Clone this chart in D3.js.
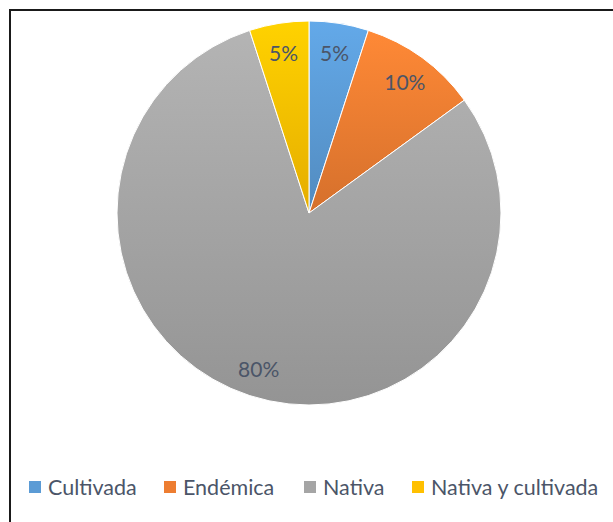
<!DOCTYPE html>
<html>
<head>
<meta charset="utf-8">
<script src="https://cdn.jsdelivr.net/npm/d3@7/dist/d3.min.js"></script>
<style>
html,body{margin:0;padding:0;background:#fff;}
svg{display:block;}
</style>
</head>
<body>
<svg id="chart" width="613" height="522"></svg>
<script>
const categories = ["Cultivada", "Endémica", "Nativa", "Nativa y cultivada"];
const values = [5, 10, 80, 5];
const labels = ["5%", "10%", "80%", "5%"];
const colors = ["#5b9bd5", "#ed7d31", "#a5a5a5", "#ffc000"];

const W = 613, H = 522;
const svg = d3.select("#chart");
const fontFam = "Lato, 'Open Sans', 'Liberation Sans', sans-serif";
const textColor = "#4b5568";

// frame
svg.append("rect").attr("x", 10).attr("y", 10).attr("width", W + 20).attr("height", H + 20)
  .attr("fill", "#fff").attr("stroke", "#1a1a1a").attr("stroke-width", 2);

const defs = svg.append("defs");
colors.forEach((c, i) => {
  const g = defs.append("linearGradient").attr("id", "grad" + i)
    .attr("x1", 0).attr("y1", 0).attr("x2", 0).attr("y2", 1);
  g.append("stop").attr("offset", "0%").attr("stop-color", d3.color(c).brighter(0.25));
  g.append("stop").attr("offset", "100%").attr("stop-color", d3.color(c).darker(0.3));
});

const cx = 309, cy = 213, r = 192;
const pie = d3.pie().sort(null).value(d => d)(values);
const arc = d3.arc().innerRadius(0).outerRadius(r);
const labelArc = d3.arc().innerRadius(163).outerRadius(163);

const g = svg.append("g").attr("transform", `translate(${cx},${cy})`);
g.selectAll("path.slice").data(pie).enter().append("path")
  .attr("class", "slice")
  .attr("d", arc)
  .attr("fill", (d, i) => `url(#grad${i})`)
  .attr("stroke", "#fff").attr("stroke-width", 1);

g.selectAll("text.lbl").data(pie).enter().append("text")
  .attr("class", "lbl")
  .attr("transform", d => `translate(${labelArc.centroid(d)})`)
  .attr("text-anchor", "middle").attr("dominant-baseline", "central")
  .attr("font-family", fontFam).attr("font-size", 21)
  .attr("fill", textColor)
  .text((d, i) => labels[i]);

// legend
const legendX = [29, 164, 304, 412];
const leg = svg.append("g");
categories.forEach((c, i) => {
  leg.append("rect").attr("x", legendX[i]).attr("y", 481).attr("width", 12).attr("height", 12)
    .attr("fill", colors[i]);
  leg.append("text").attr("x", legendX[i] + 19).attr("y", 487)
    .attr("dominant-baseline", "central")
    .attr("font-family", fontFam).attr("font-size", 21.5)
    .attr("fill", textColor).text(c);
});
</script>
</body>
</html>
